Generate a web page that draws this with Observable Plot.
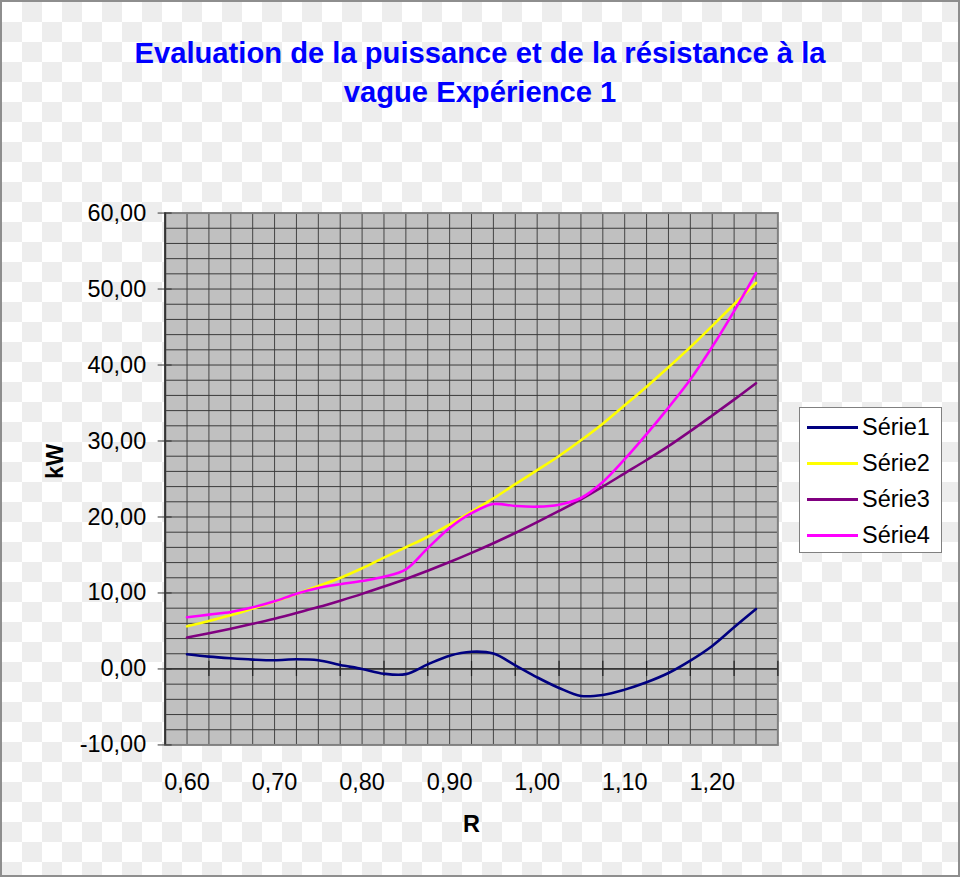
<!DOCTYPE html>
<html>
<head>
<meta charset="utf-8">
<script src="https://cdn.jsdelivr.net/npm/d3@7"></script>
<script src="https://cdn.jsdelivr.net/npm/@observablehq/plot@0.6"></script>
<style>
  html, body { margin: 0; padding: 0; }
  #wrap {
    position: relative; width: 960px; height: 877px; box-sizing: border-box;
    border: 2px solid #8e8e8e;
    background: repeating-conic-gradient(#ededed 0 25%, #ffffff 0 50%) 0 0 / 40px 40px;
    font-family: "Liberation Sans", Arial, sans-serif; overflow: hidden;
  }
  #chart { position: absolute; left: -2px; top: -2px; }
  #title {
    position: absolute; left: 0; width: 956px; top: 32px; text-align: center;
    color: #0000ff; font-weight: bold; font-size: 29.2px; line-height: 39px; z-index: 2;
  }
  #legend {
    position: absolute; left: 797px; top: 405px; width: 143px; height: 146px; box-sizing: border-box;
    background: #fff; border: 1px solid #808080; z-index: 2;
  }
  .item { position: absolute; left: 0; height: 30px; display: flex; align-items: center; }
  .swatch { position: absolute; left: 7px; width: 51px; height: 3px; }
  .lab { position: absolute; left: 62px; font-size: 23.5px; color: #000; white-space: nowrap; line-height: 30px; }
</style>
</head>
<body>
<div id="wrap">
  <div id="title">Evaluation de la puissance et de la résistance à la<br>vague Expérience 1</div>
  <div id="chart"></div>
  <div id="legend"></div>
</div>
<script>
// Category values of R (x axis)
const R = [0.600, 0.625, 0.650, 0.675, 0.700, 0.725, 0.750, 0.775, 0.800, 0.825, 0.850, 0.875, 0.900, 0.925,
           0.950, 0.975, 1.000, 1.025, 1.050, 1.075, 1.100, 1.125, 1.150, 1.175, 1.200, 1.225, 1.250];

// Series values (kW)
const serie1 = [1.93, 1.62, 1.40, 1.23, 1.14, 1.27, 1.14, 0.53, 0.00, -0.62, -0.68, 0.61, 1.75, 2.26,
                2.02, 0.48, -1.10, -2.50, -3.55, -3.42, -2.72, -1.75, -0.53, 1.10, 3.03, 5.48, 7.89];
const serie2 = [5.61, 6.32, 7.06, 7.94, 8.86, 9.87, 10.92, 11.98, 13.25, 14.66, 16.02, 17.40, 19.00, 20.70,
                22.44, 24.32, 26.16, 28.03, 30.09, 32.28, 34.70, 37.15, 39.70, 42.35, 45.15, 48.00, 50.80];
const serie3 = [4.15, 4.71, 5.30, 5.94, 6.62, 7.36, 8.14, 8.99, 9.88, 10.84, 11.85, 12.93, 14.07, 15.28,
                16.55, 17.89, 19.32, 20.80, 22.33, 24.00, 25.75, 27.50, 29.32, 31.30, 33.36, 35.45, 37.60];
const serie4 = [6.80, 7.15, 7.50, 8.11, 8.90, 9.91, 10.66, 11.15, 11.58, 12.12, 13.10, 15.90, 18.55, 20.50,
                21.70, 21.45, 21.36, 21.62, 22.50, 24.60, 27.60, 30.90, 34.40, 38.10, 42.40, 47.10, 52.10];

const seriesNames = ["Série1", "Série2", "Série3", "Série4"];
const seriesColors = ["#000080", "#ffff00", "#800080", "#ff00ff"];

// Axis ticks
const yTicks = [-10, 0, 10, 20, 30, 40, 50, 60];
const yGrid = [-8, -6, -4, -2, 0, 2, 4, 6, 8, 10, 12, 14, 16, 18, 20, 22, 24, 26, 28, 30, 32, 34, 36, 38, 40, 42, 44, 46, 48, 50, 52, 54, 56, 58];
const xLabels = [0.60, 0.70, 0.80, 0.90, 1.00, 1.10, 1.20];
const xAxisTicks = [0.625, 0.675, 0.725, 0.775, 0.825, 0.875, 0.925, 0.975, 1.025, 1.075, 1.125, 1.175, 1.225, 1.275];
const xDomain = [0.575, 1.275];
const yDomain = [-10, 60];

const rows = [];
[serie1, serie2, serie3, serie4].forEach((vals, s) =>
  vals.forEach((v, i) => rows.push({r: R[i], v, serie: seriesNames[s]})));

const fmt = d => d.toFixed(2).replace(".", ",");

const chart = Plot.plot({
  width: 960, height: 877,
  marginLeft: 165, marginRight: 181, marginTop: 213, marginBottom: 131,
  style: {background: "transparent", fontFamily: "'Liberation Sans', Arial, sans-serif", color: "#000"},
  x: {type: "linear", domain: xDomain, label: null},
  y: {domain: yDomain, label: null},
  color: {domain: seriesNames, range: seriesColors},
  marks: [
    Plot.frame({fill: "#c0c0c0", stroke: null}),
    Plot.gridX(R, {stroke: "#444", strokeOpacity: 1, strokeWidth: 1}),
    Plot.gridY(yGrid, {stroke: "#3a3a3a", strokeOpacity: 1, strokeWidth: 1}),
    Plot.frame({stroke: "#808080", strokeWidth: 2}),
    Plot.ruleY([0], {stroke: "#222", strokeWidth: 1.2}),
    Plot.ruleX(xAxisTicks, {x: d => d, y1: -1, y2: 1, stroke: "#222", strokeWidth: 1.2}),
    Plot.ruleX([xDomain[0]], {stroke: "#333", strokeWidth: 2}),
    Plot.axisY(yTicks, {tickSize: 14, dx: 7, tickFormat: () => "", label: null, stroke: "#333"}),
    Plot.axisY(yTicks, {tickSize: 0, tickPadding: 19, tickFormat: fmt, fontSize: 23.5, label: null}),
    Plot.axisX(xLabels, {tickSize: 0, tickPadding: 28, tickFormat: fmt, fontSize: 23.5, label: null}),
    Plot.text(["kW"], {text: d => d, frameAnchor: "left", dx: -110, rotate: -90, fontWeight: "bold", fontSize: 23.5}),
    Plot.text(["R"], {text: d => d, frameAnchor: "bottom", dy: 87, fontWeight: "bold", fontSize: 23.5}),
    Plot.line(rows, {x: "r", y: "v", z: "serie", stroke: "serie", strokeWidth: 2.6, curve: "catmull-rom"})
  ]
});
document.getElementById("chart").appendChild(chart);

// Legend
const legend = document.getElementById("legend");
seriesNames.forEach((name, i) => {
  const item = document.createElement("div");
  item.className = "item";
  item.style.top = (4 + i * 36) + "px";
  item.innerHTML = `<span class="swatch" style="background:${seriesColors[i]}"></span><span class="lab">${name}</span>`;
  legend.appendChild(item);
});
</script>
</body>
</html>
